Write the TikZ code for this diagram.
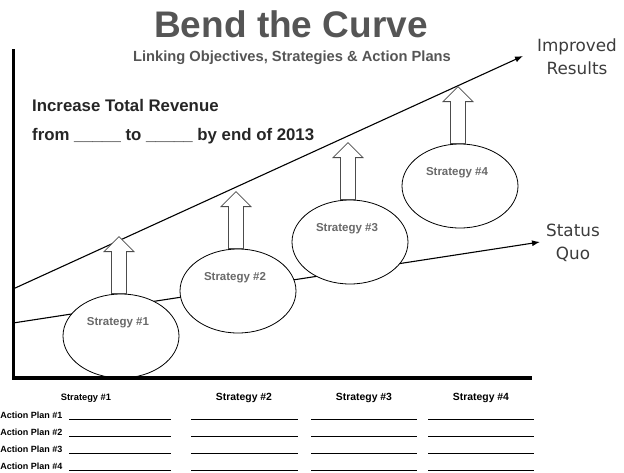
\documentclass[tikz,border=0pt]{standalone}
\usepackage{fontspec}
\setmainfont{Liberation Sans}
\newfontfamily\tagfont{DejaVu Sans}
\usetikzlibrary{arrows.meta,shapes.geometric}

\definecolor{titlegrey}{RGB}{85,85,85}
\definecolor{stratgrey}{RGB}{105,105,105}
\definecolor{taggrey}{RGB}{60,60,60}

\begin{document}
\begin{tikzpicture}[x=1pt,y=-1pt,
    trend/.style={-{Latex[length=8pt,width=6pt]},line width=1.1pt},
    strat/.style={ellipse,draw,fill=white,line width=0.8pt,minimum width=116pt,minimum height=84pt,inner sep=0pt},
    stratname/.style={font=\fontsize{11.5}{13}\selectfont\bfseries,text=stratgrey,inner sep=0pt},
    lift/.style={draw=black!70,fill=white,line width=0.8pt,line join=miter},
    tag/.style={font=\tagfont\fontsize{16.8}{23}\selectfont,text=taggrey,align=center,inner sep=0pt},
    head/.style={font=\fontsize{10.4}{12}\selectfont\bfseries,inner sep=0pt},
    plan/.style={font=\fontsize{9}{11}\selectfont\bfseries,inner sep=0pt,anchor=east},
    blank/.style={line width=0.8pt}]

  \useasboundingbox (0,0) rectangle (624,472);

  \node[font=\fontsize{37}{40}\selectfont\bfseries,text=titlegrey,anchor=base] (title) at (291,37) {Bend the Curve};
  \node[font=\fontsize{14.7}{16}\selectfont\bfseries,text=titlegrey,anchor=base] (subtitle) at (292,61.5) {Linking Objectives, Strategies \& Action Plans};

  \node[font=\fontsize{16.8}{19}\selectfont\bfseries,text=black!85,anchor=base west,inner sep=0pt] (goal) at (32,111) {Increase Total Revenue};
  \node[font=\fontsize{16.8}{19}\selectfont\bfseries,text=black!85,anchor=base west,inner sep=0pt] (target) at (32,140) {from \_\_\_\_\_ to \_\_\_\_\_ by end of 2013};

  \coordinate (up0) at (13,289);
  \coordinate (up1) at (523,56);
  \coordinate (sq0) at (13,323);
  \coordinate (sq1) at (540,242);
  \draw[trend] (up0) -- (up1);
  \draw[trend] (sq0) -- (sq1);

  \node[tag] (improved) at (577,57) {Improved\\Results};
  \node[tag] (status) at (573,243) {Status\\Quo};

  \node[strat] (s1) at (121,336) {};
  \node[strat] (s2) at (238,291) {};
  \node[strat] (s3) at (350,242) {};
  \node[strat] (s4) at (460,186) {};
  \foreach \e in {1,...,4}
    \node[stratname] (n\e) at ([xshift=-3pt,yshift=13pt]s\e.center) {Strategy \#\e};

  \foreach \e in {1,...,4}
    \draw[lift] ([xshift=-2pt]s\e.north) ++(-7.5,0) -- ++(0,-42) -- ++(-7.5,0) -- ++(15,-15)
      -- ++(15,15) -- ++(-7.5,0) -- ++(0,42) -- cycle;

  \coordinate (top) at (13.5,49);
  \coordinate (origin) at (13.5,378);
  \coordinate (right) at (532,378);
  \draw[line width=3.5pt] (top) -- (origin) -- (right);

  \node[head,font=\fontsize{9.3}{11}\selectfont\bfseries] (h1) at (86,398) {Strategy \#1};
  \foreach \e/\x in {2/244,3/364,4/481}
    \node[head] (h\e) at (\x,398) {Strategy \#\e};

  \foreach \n/\y in {1/415,2/432,3/449,4/466}
    \node[plan] (ap\n) at (62.5,\y) {Action Plan \#\n};
  \foreach \a/\b in {69/171,191/298,311/417,428/534}
    \foreach \y in {419,436,453,470}
      \draw[blank] (\a,\y) -- (\b,\y);
\end{tikzpicture}
\end{document}
